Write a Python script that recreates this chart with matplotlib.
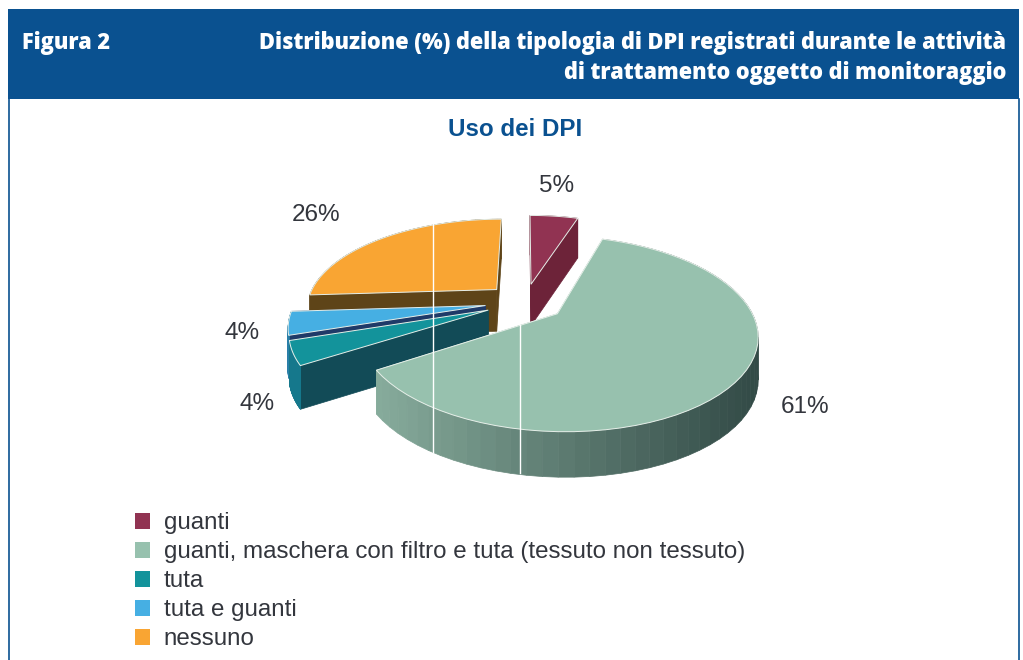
import numpy as np
import matplotlib
matplotlib.use('Agg')
import matplotlib.pyplot as plt
from matplotlib.patches import Polygon, Rectangle, Patch

# dati del grafico
categorie = ['guanti', 'guanti, maschera con filtro e tuta (tessuto non tessuto)',
             'tuta', 'tuta e guanti', 'nessuno']
valori = [5, 61, 4, 4, 26]
colori = ['#913352', '#97c1ae', '#13939b', '#46afe3', '#f9a533']
colori_taglio = ['#6d2339', '#97c1ae', '#124b57', '#1f3a68', '#5e4418']
colori_bordo = ['#6d2339', '#6f9a88', '#15788c', '#2a7fa8', '#5e4418']
pos_etichette = [(557, 186), (805, 407), (257, 404), (242, 333), (316, 215)]
ordine = [4, 0, 3, 2, 1]

x0, y0 = 525, 302          # centro torta in pixel
A, B = 190, 89             # semiassi
persp = 0.2
expl = 0.21
blu = '#0a5190'


def proietta(X, Y):
    s = 1/(1 + persp*Y)
    return x0 + A*X*s, y0 - B*Y*s, 30 + 12*s


def quad(ax, p, q, col, z):
    xs = [p[0], q[0], q[0], p[0]]
    ys = [p[1], q[1], q[1] + q[2], p[1] + p[2]]
    ax.add_patch(Polygon(np.c_[xs, ys], fc=col, ec=col, lw=0.5, zorder=z))


def sfuma_verde(x):
    # bordo verde: chiaro a sinistra, scuro a destra
    t = np.clip((x - 380)/(760 - 380), 0, 1)
    a, b = np.array([135, 172, 156]), np.array([50, 74, 70])
    return tuple((a + (b - a)*t)/255)


fig = plt.figure(figsize=(10.23, 6.6), dpi=100)
ax = fig.add_axes([0, 0, 1, 1])
ax.set_xlim(0, 1023)
ax.set_ylim(660, 0)
ax.axis('off')

# testata
ax.add_patch(Rectangle((8, 9), 1011, 90, fc=blu, ec='none'))
ax.plot([8.5, 8.5], [99, 660], color=blu, lw=1.2)
ax.plot([1018.5, 1018.5], [99, 660], color=blu, lw=1.2)
ax.text(22, 43, 'Figura 2', color='white', family='Open Sans', weight='extra bold', fontsize=15.7, va='center')
ax.text(1006, 43, 'Distribuzione (%) della tipologia di DPI registrati durante le attività',
        color='white', family='Open Sans', weight='extra bold', fontsize=15.7, va='center', ha='right')
ax.text(1006, 73, 'di trattamento oggetto di monitoraggio',
        color='white', family='Open Sans', weight='extra bold', fontsize=15.7, va='center', ha='right')
ax.text(515, 130, 'Uso dei DPI', color=blu, family='Liberation Sans', weight='bold', fontsize=17.4, ha='center', va='center')

# torta
fine = np.cumsum(valori)/sum(valori)*2*np.pi
inizio = np.r_[0, fine[:-1]]
for i in ordine:
    th = np.linspace(inizio[i], fine[i], 60)
    m = (inizio[i] + fine[i])/2
    ox, oy = expl*np.sin(m), expl*np.cos(m)
    px, py, pd = proietta(ox + np.sin(th), oy + np.cos(th))
    cx, cy, cd = proietta(ox, oy)
    c = (cx, cy, cd)

    # facce laterali dietro -> davanti
    facce = [(oy + np.cos(th[0])/2, c, (px[0], py[0], pd[0]), colori_taglio[i]),
             (oy + np.cos(th[-1])/2, c, (px[-1], py[-1], pd[-1]), colori_taglio[i])]
    for j in range(len(th) - 1):
        col = sfuma_verde(px[j]) if i == 1 else colori_bordo[i]
        facce.append((oy + np.cos(th[j]), (px[j], py[j], pd[j]), (px[j+1], py[j+1], pd[j+1]), col))
    for _, p, q, col in sorted(facce, key=lambda f: -f[0]):
        quad(ax, p, q, col, 2)

    top = np.c_[np.r_[cx, px], np.r_[cy, py]]
    ax.add_patch(Polygon(top, fc=colori[i], ec='#e6efe9', lw=0.7, zorder=2))

# etichette
for v, (x, y) in zip(valori, pos_etichette):
    ax.text(x, y, f'{v}%', color='#33363d', family='Liberation Sans', fontsize=17.5, ha='center', va='center', zorder=5)

# linee bianche presenti nell'immagine
ax.plot([432.5, 432.5], [218, 452], color='white', lw=1, zorder=4)
ax.plot([520, 520], [325, 473], color='white', lw=1, zorder=4)

# legenda
maniglie = [Patch(fc=c, ec='none') for c in colori]
leg = ax.legend(maniglie, categorie, loc='upper left', bbox_to_anchor=(128/1023, 1 - 505/660), frameon=False,
                prop={'family': 'Liberation Sans', 'size': 17.4}, labelcolor='#33363d',
                handlelength=0.62, handleheight=0.62, handletextpad=0.56, labelspacing=0.29,
                borderpad=0.3, borderaxespad=0)

fig.savefig('out.png', dpi=100)
